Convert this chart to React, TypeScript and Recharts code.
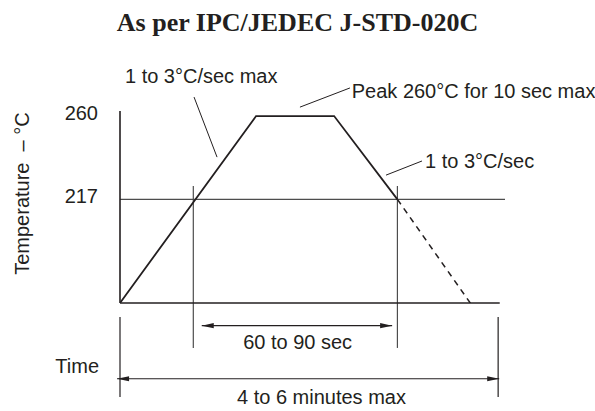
import React from 'react';
import { LineChart, Line, XAxis, YAxis, ReferenceLine, ReferenceDot } from 'recharts';

// Reflow profile (time in s, temperature in schematic °C units)
const profileTime = [0, 129, 203, 263];
const profileTemp = [163.5, 260, 260, 217];
const coolTime = [263, 334];
const coolTemp = [217, 162];
const tempTicks = [217, 260];

const baseTemp = 163.5;
const axisTopTemp = 262.6;
const liquidus = 217;
const timeEnd = 365;
const baselineEnd = 360;
const windowTimes = [69.5, 263];
const windowTop = 223.9;
const windowBottom = 140.3;
const windowArrow = { from: 77.5, to: 258, temp: 151.8 };
const totalTicks = [0, 358.5];
const totalTickTop = 156.3;
const totalTickBottom = 115.0;
const totalArrow = { from: -2.8, to: 359.5, temp: 124.4 };

const leaders = [
  { t1: 70.2, v1: 269.8, t2: 92, v2: 238.8 },
  { t1: 170.6, v1: 264.6, t2: 218, v2: 274.5 },
  { t1: 252.2, v1: 229.5, t2: 286.3, v2: 236.8 },
];

const notes = [
  { text: '1 to 3°C/sec max', t: 4.7, temp: 277, anchor: 'start' },
  { text: 'Peak 260°C for 10 sec max', t: 219.7, temp: 269.4, anchor: 'start' },
  { text: '1 to 3°C/sec', t: 289.2, temp: 233.3, anchor: 'start' },
  { text: '60 to 90 sec', t: 168.4, temp: 139.6, anchor: 'middle' },
  { text: '4 to 6 minutes max', t: 191, temp: 111.4, anchor: 'middle' },
  { text: 'Time', t: -19.9, temp: 127.5, anchor: 'end' },
];

const yLabel = { text: 'Temperature  – °C', t: -86.3, temp: 220 };

const profileData = profileTime.map((t, i) => ({ t, temp: profileTemp[i] }));
const coolData = coolTime.map((t, i) => ({ t, temp: coolTemp[i] }));

const FONT = '"Liberation Sans", Arial, Helvetica, sans-serif';
const INK = '#231f20';
const GRAY = '#4d4d4d';

const ArrowShape = (props: any) => {
  const { x1, y1, x2, y2 } = props;
  const len = 12;
  const hw = 2.6;
  const dir = x2 > x1 ? 1 : -1;
  return (
    <g>
      <line x1={x1} y1={y1} x2={x2} y2={y2} stroke={INK} strokeWidth={1.2} />
      <polygon
        points={`${x1},${y1} ${x1 + dir * len},${y1 - hw} ${x1 + dir * len},${y1 + hw}`}
        fill={INK}
      />
      <polygon
        points={`${x2},${y2} ${x2 - dir * len},${y2 - hw} ${x2 - dir * len},${y2 + hw}`}
        fill={INK}
      />
    </g>
  );
};

const noteContent = (text: string, anchor: string, rotate = false) => (p: any) => {
  const vb = p.viewBox || {};
  const x = vb.x + (vb.width || 0) / 2;
  const y = vb.y + (vb.height || 0) / 2;
  return (
    <text
      x={x}
      y={y}
      textAnchor={anchor}
      fontFamily={FONT}
      fontSize={20}
      fill={INK}
      transform={rotate ? `rotate(-90 ${x} ${y})` : undefined}
      style={{ whiteSpace: 'pre' }}
    >
      {text}
    </text>
  );
};

const YTick = (p: any) => (
  <text x={p.x} y={p.y} dy={4} textAnchor="end" fontFamily={FONT} fontSize={20} fill={INK}>
    {p.payload.value}
  </text>
);

export default function App() {
  return (
    <div style={{ position: 'absolute', left: 0, top: 0, width: 595, height: 411, background: '#fff' }}>
      <div
        style={{
          position: 'absolute',
          left: 0,
          top: 10,
          width: 595,
          textAlign: 'center',
          fontFamily: '"Liberation Serif", "Times New Roman", serif',
          fontWeight: 'bold',
          fontSize: 26,
          lineHeight: '26px',
          color: INK,
        }}
      >
        As per IPC/JEDEC J-STD-020C
      </div>
      <div style={{ position: 'absolute', left: 0, top: 0 }}>
        <LineChart width={595} height={411} margin={{ top: 111, right: 90, bottom: 108, left: 0 }}>
          <XAxis type="number" dataKey="t" domain={[0, timeEnd]} allowDataOverflow hide />
          <YAxis
            type="number"
            dataKey="temp"
            domain={[baseTemp, axisTopTemp]}
            allowDataOverflow
            ticks={tempTicks}
            width={120}
            tickSize={0}
            tickMargin={22}
            tickLine={false}
            axisLine={{ stroke: INK, strokeWidth: 1.6 }}
            tick={YTick}
          />
          <ReferenceLine
            segment={[{ x: 0, y: liquidus }, { x: timeEnd, y: liquidus }]}
            stroke={GRAY}
            strokeWidth={1.2}
            ifOverflow="visible"
          />
          {windowTimes.map((t) => (
            <ReferenceLine
              key={`w${t}`}
              segment={[{ x: t, y: windowTop }, { x: t, y: windowBottom }]}
              stroke={GRAY}
              strokeWidth={1.2}
              ifOverflow="visible"
            />
          ))}
          <ReferenceLine
            segment={[{ x: 0, y: baseTemp }, { x: baselineEnd, y: baseTemp }]}
            stroke={INK}
            strokeWidth={1.6}
            ifOverflow="visible"
          />
          {totalTicks.map((t) => (
            <ReferenceLine
              key={`e${t}`}
              segment={[{ x: t, y: totalTickTop }, { x: t, y: totalTickBottom }]}
              stroke={INK}
              strokeWidth={1.2}
              ifOverflow="visible"
            />
          ))}
          <ReferenceLine
            segment={[{ x: windowArrow.from, y: windowArrow.temp }, { x: windowArrow.to, y: windowArrow.temp }]}
            ifOverflow="visible"
            shape={ArrowShape}
          />
          <ReferenceLine
            segment={[{ x: totalArrow.from, y: totalArrow.temp }, { x: totalArrow.to, y: totalArrow.temp }]}
            ifOverflow="visible"
            shape={ArrowShape}
          />
          {leaders.map((l, i) => (
            <ReferenceLine
              key={`l${i}`}
              segment={[{ x: l.t1, y: l.v1 }, { x: l.t2, y: l.v2 }]}
              stroke={INK}
              strokeWidth={1}
              ifOverflow="visible"
            />
          ))}
          <Line
            data={profileData}
            dataKey="temp"
            type="linear"
            stroke={INK}
            strokeWidth={1.8}
            dot={false}
            activeDot={false}
            isAnimationActive={false}
          />
          <Line
            data={coolData}
            dataKey="temp"
            type="linear"
            stroke={INK}
            strokeWidth={1.5}
            strokeDasharray="6 5"
            dot={false}
            activeDot={false}
            isAnimationActive={false}
          />
          {notes.map((n, i) => (
            <ReferenceDot
              key={`n${i}`}
              x={n.t}
              y={n.temp}
              r={0}
              fill="none"
              stroke="none"
              ifOverflow="visible"
              label={{ content: noteContent(n.text, n.anchor) }}
            />
          ))}
          <ReferenceDot
            x={yLabel.t}
            y={yLabel.temp}
            r={0}
            fill="none"
            stroke="none"
            ifOverflow="visible"
            label={{ content: noteContent(yLabel.text, 'middle', true) }}
          />
        </LineChart>
      </div>
    </div>
  );
}
